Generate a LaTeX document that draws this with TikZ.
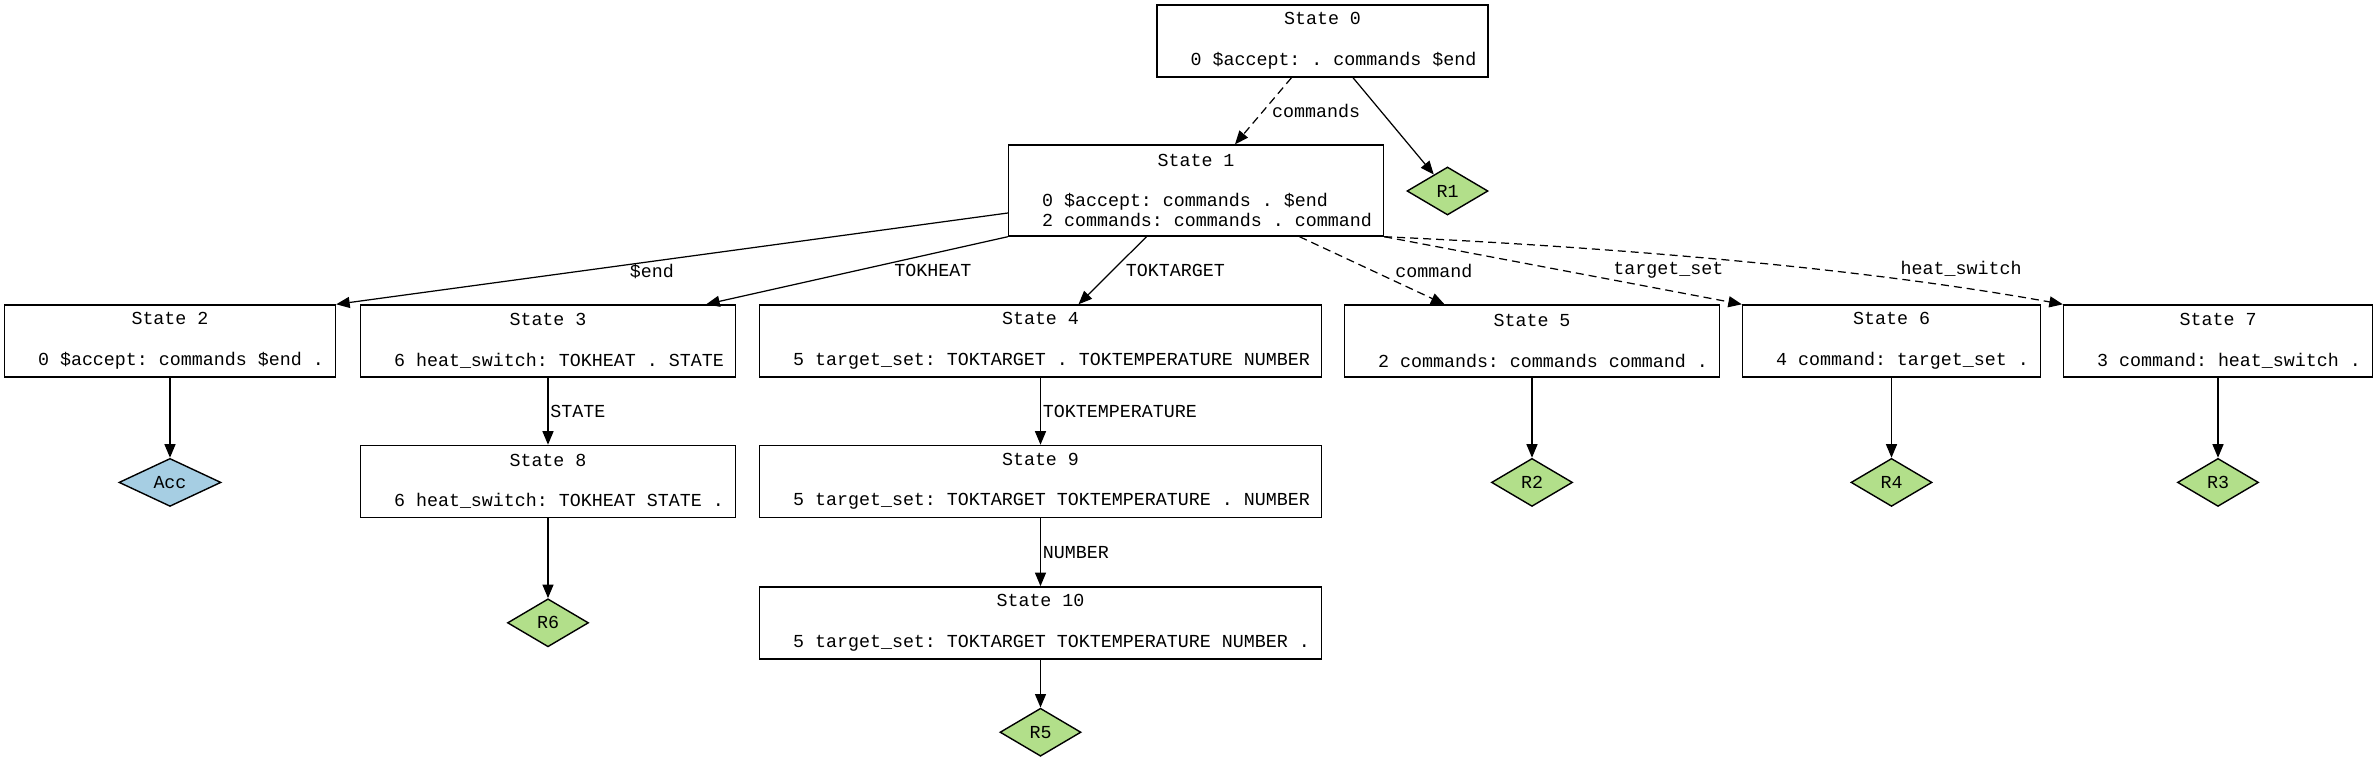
\documentclass[tikz,border=0pt]{standalone}
\usepackage{fontspec}
\setmonofont{Liberation Mono}
\usepackage{xcolor}
\usetikzlibrary{positioning,arrows.meta,shapes.geometric}

\definecolor{redgreen}{HTML}{B2DF8A}
\definecolor{accblue}{HTML}{A6CEE3}
\newcommand{\stfont}{\ttfamily\frenchspacing\fontsize{10.43pt}{11.55pt}\selectfont}

\begin{document}
\begin{tikzpicture}[
    statebox/.style={draw, rectangle, line width=0.8pt, font=\stfont, align=center, inner xsep=0.23cm, minimum height=1.44cm},
    redbox/.style={draw, diamond, line width=0.8pt, fill=redgreen, font=\stfont, inner sep=0pt, minimum width=1.62cm, minimum height=0.96cm},
    accbox/.style={redbox, fill=accblue, minimum width=2.04cm},
    lbl/.style={font=\stfont, inner sep=1pt},
    tr/.style={-{Triangle[length=0.27cm, width=0.22cm]}, line width=0.7pt},
    gototr/.style={tr, dash pattern=on 0.16cm off 0.1cm}]
    \useasboundingbox (0,0) rectangle (47.56,-15.2);

    % States
    \node[statebox] (s0) at (26.45,-0.82) {State 0\\[\baselineskip]\hphantom{00}0 \$accept: . commands \$end};
    \node[statebox, minimum height=1.82cm] (s1) at (23.92,-3.81) {State 1\\[\baselineskip]\hphantom{00}0 \$accept: commands . \$end\hphantom{0000}\\\hphantom{00}2 commands: commands . command};
    \node[statebox] (s2) at (3.40,-6.82) {State 2\\[\baselineskip]\hphantom{00}0 \$accept: commands \$end .};
    \node[statebox] (s3) at (10.96,-6.82) {State 3\\[\baselineskip]\hphantom{00}6 heat\_switch: TOKHEAT . STATE};
    \node[statebox] (s4) at (20.81,-6.82) {State 4\\[\baselineskip]\hphantom{00}5 target\_set: TOKTARGET . TOKTEMPERATURE NUMBER};
    \node[statebox] (s5) at (30.64,-6.82) {State 5\\[\baselineskip]\hphantom{00}2 commands: commands command .};
    \node[statebox] (s6) at (37.83,-6.82) {State 6\\[\baselineskip]\hphantom{00}4 command: target\_set .};
    \node[statebox] (s7) at (44.36,-6.82) {State 7\\[\baselineskip]\hphantom{00}3 command: heat\_switch .};
    \node[statebox, below=1.34cm of s3] (s8) {State 8\\[\baselineskip]\hphantom{00}6 heat\_switch: TOKHEAT STATE .};
    \node[statebox, below=1.34cm of s4] (s9) {State 9\\[\baselineskip]\hphantom{00}5 target\_set: TOKTARGET TOKTEMPERATURE . NUMBER};
    \node[statebox, below=1.36cm of s9] (s10) {State 10\\[\baselineskip]\hphantom{00}5 target\_set: TOKTARGET TOKTEMPERATURE NUMBER .};

    % Reductions
    \node[redbox] (r1) at (28.95,-3.82) {R1};
    \node[accbox, below=1.6cm of s2] (acc) {Acc};
    \node[redbox, below=1.6cm of s5] (r2) {R2};
    \node[redbox, below=1.6cm of s6] (r4) {R4};
    \node[redbox, below=1.6cm of s7] (r3) {R3};
    \node[redbox, below=1.6cm of s8] (r6) {R6};
    \node[redbox, below=0.96cm of s10] (r5) {R5};

    % Transitions
    \draw[gototr] ([xshift=-0.62cm]s0.south) -- node[lbl, right=0.13cm] {commands} ([xshift=0.78cm]s1.north);
    \draw[tr] ([xshift=0.61cm]s0.south) -- (r1);
    \draw[tr] ([yshift=-0.45cm]s1.west) -- node[lbl, pos=0.53, below] {\$end} (s2.north east);
    \draw[tr] (s1.south west) -- node[lbl, right=0.7cm] {TOKHEAT} ([xshift=-0.6cm]s3.north east);
    \draw[tr] ([xshift=-0.99cm]s1.south) -- node[lbl, right=0.22cm] {TOKTARGET} ([xshift=0.76cm]s4.north);
    \draw[gototr] ([xshift=2.07cm]s1.south) -- node[lbl, right=0.42cm] {command} ([xshift=-1.75cm]s5.north);
    \draw[gototr] (s1.south east) -- node[lbl, right=0.96cm] {target\_set} (s6.north west);
    \draw[gototr] (s1.south east) .. controls +(4.34,-0.2) and +(-4.22,0.76) .. (s7.north west)
        node[lbl, pos=0.75, anchor=south west] {heat\_switch};
    \draw[tr] (s3) -- node[lbl, right=0pt] {STATE} (s8);
    \draw[tr] (s4) -- node[lbl, right=0pt] {TOKTEMPERATURE} (s9);
    \draw[tr] (s9) -- node[lbl, right=0pt] {NUMBER} (s10);

    % Reduce arrows
    \draw[tr] (s2) -- (acc);
    \draw[tr] (s8) -- (r6);
    \draw[tr] (s10) -- (r5);
    \draw[tr] (s5) -- (r2);
    \draw[tr] (s6) -- (r4);
    \draw[tr] (s7) -- (r3);
\end{tikzpicture}
\end{document}
